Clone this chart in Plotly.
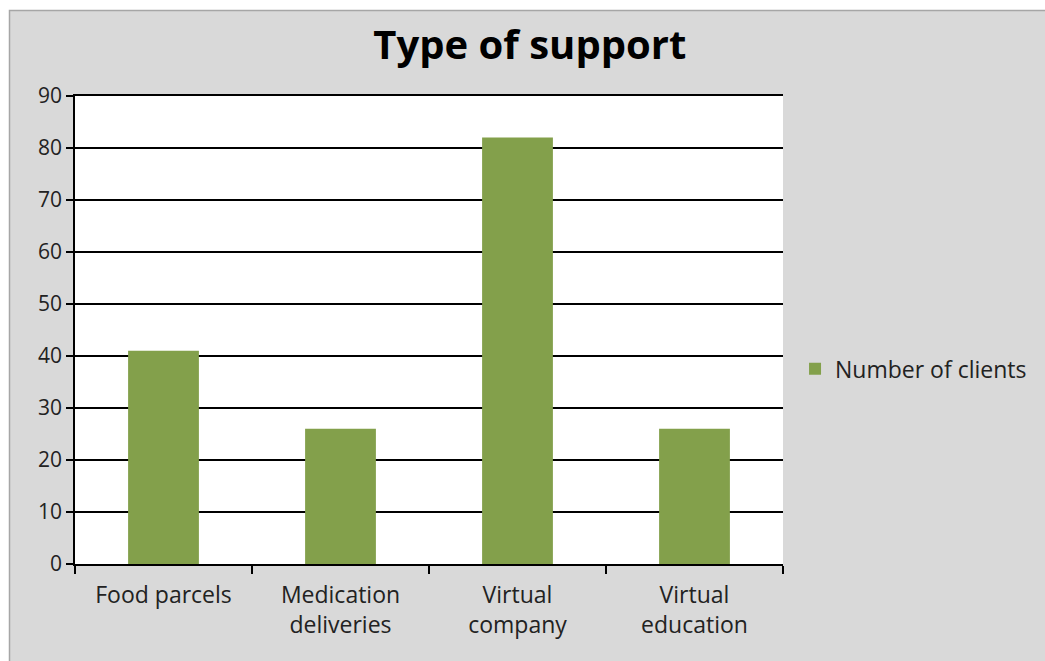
import plotly.graph_objects as go

categories = ["Food parcels", "Medication<br>deliveries", "Virtual<br>company", "Virtual<br>education"]
clients = [41, 26, 82, 26]
series_name = "Number of clients"
y_ticks = [0, 10, 20, 30, 40, 50, 60, 70, 80, 90]

FONT = "Open Sans"
TXT = "#222222"
fig = go.Figure()
fig.add_trace(go.Bar(x=categories, y=clients, name=series_name,
                     marker=dict(color="#83a04b", line=dict(width=0))))

fig.update_layout(
    width=1045, height=661,
    margin=dict(l=75, r=262, t=96, b=97),
    paper_bgcolor="white",
    plot_bgcolor="white",
    bargap=0.6,
    showlegend=True,
    title=dict(text="Type of support", x=0.507, xanchor="center", y=0.932, yanchor="middle",
               font=dict(family=FONT, size=40, color="black", weight="bold")),
    legend=dict(x=1.017, xanchor="left", y=0.417, yanchor="middle",
                bgcolor="rgba(0,0,0,0)", font=dict(family=FONT, size=23, color=TXT),
                itemwidth=30, tracegroupgap=0),
    font=dict(family=FONT, size=21, color=TXT),
    shapes=[dict(type="rect", xref="paper", yref="paper",
                 x0=(9.5 - 75) / 708, x1=(1060 - 75) / 708,
                 y0=(564 - 680) / 468, y1=(564 - 10.5) / 468,
                 fillcolor="#d9d9d9", line=dict(color="#a6a6a6", width=1.5), layer="below"),
            dict(type="rect", xref="paper", yref="paper", x0=0, x1=1, y0=0, y1=1,
                 fillcolor="white", line=dict(width=0), layer="below")],
)
fig.update_xaxes(showline=True, linecolor="black", linewidth=1.5, mirror=True, ticks="outside",
                 tickson="boundaries", ticklen=8, tickwidth=1.5, tickcolor="black",
                 showgrid=False, ticklabelstandoff=10,
                 tickfont=dict(family=FONT, size=23, color=TXT))
fig.update_yaxes(range=[0, 90], tickvals=y_ticks, showline=True, linecolor="black", linewidth=1.5,
                 ticks="outside", ticklen=7, tickwidth=1.5, tickcolor="black",
                 showgrid=True, gridcolor="black", gridwidth=1.5, zeroline=False,
                 tickfont=dict(family=FONT, size=21, color=TXT))
fig.write_html("out.html")
